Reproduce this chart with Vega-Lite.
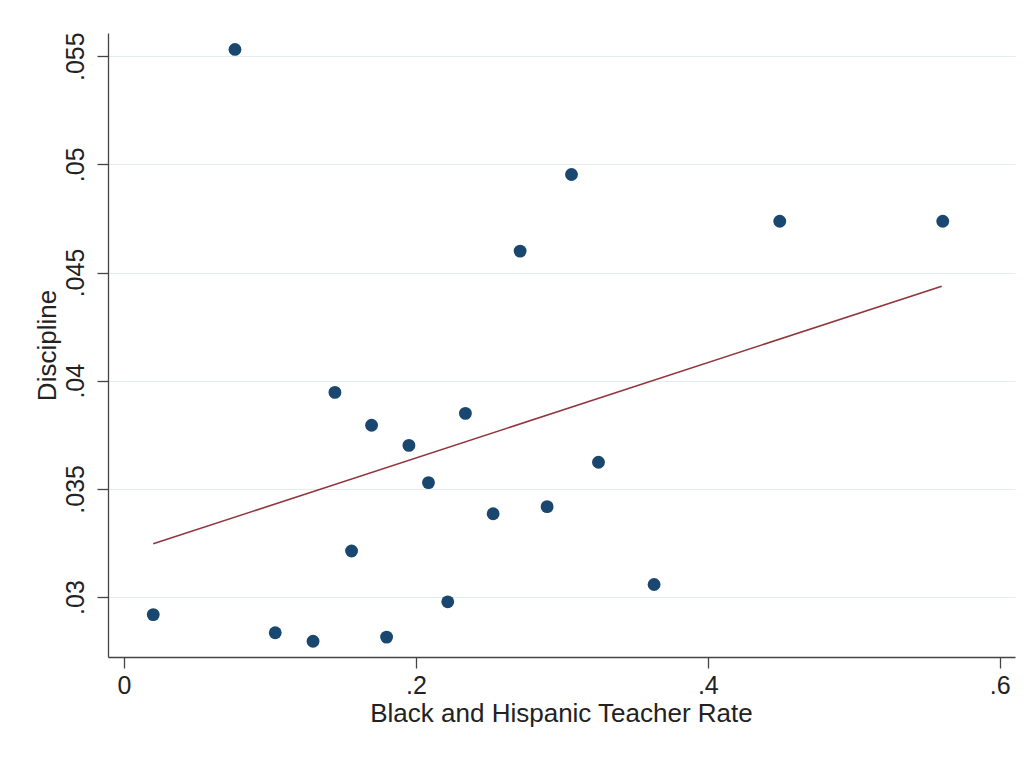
{
  "$schema": "https://vega.github.io/schema/vega-lite/v6.json",
  "width": 907,
  "height": 624,
  "autosize": {"type": "none"},
  "padding": {"left": 108, "top": 33, "right": 17, "bottom": 103},
  "background": "white",
  "config": {
    "view": {"stroke": null},
    "font": "Liberation Sans",
    "axis": {
      "domainColor": "#444444",
      "domainWidth": 1.3,
      "tickColor": "#444444",
      "tickWidth": 1.3,
      "tickSize": 11,
      "labelFont": "Liberation Sans",
      "labelFontSize": 25,
      "labelColor": "#222222",
      "titleFont": "Liberation Sans",
      "titleFontSize": 26,
      "titleFontWeight": "normal",
      "titleColor": "#222222",
      "gridColor": "#e3ecef",
      "gridWidth": 1.2
    }
  },
  "datasets": {
    "pts": [
      {"rate": 0.0200, "discipline": 0.02919},
      {"rate": 0.0760, "discipline": 0.05531},
      {"rate": 0.1036, "discipline": 0.02835},
      {"rate": 0.1295, "discipline": 0.02796},
      {"rate": 0.1445, "discipline": 0.03946},
      {"rate": 0.1559, "discipline": 0.03213},
      {"rate": 0.1696, "discipline": 0.03794},
      {"rate": 0.1799, "discipline": 0.02815},
      {"rate": 0.1952, "discipline": 0.03701},
      {"rate": 0.2086, "discipline": 0.03529},
      {"rate": 0.2218, "discipline": 0.02978},
      {"rate": 0.2339, "discipline": 0.03849},
      {"rate": 0.2529, "discipline": 0.03385},
      {"rate": 0.2714, "discipline": 0.04599},
      {"rate": 0.2899, "discipline": 0.03418},
      {"rate": 0.3066, "discipline": 0.04953},
      {"rate": 0.3251, "discipline": 0.03623},
      {"rate": 0.3632, "discipline": 0.03058},
      {"rate": 0.4493, "discipline": 0.04737},
      {"rate": 0.5610, "discipline": 0.04737}
    ],
    "fit": [
      {"rate": 0.0200, "fitted": 0.03246},
      {"rate": 0.5603, "fitted": 0.04437}
    ]
  },
  "layer": [
    {
      "data": {"name": "fit"},
      "mark": {"type": "line", "color": "#90353b", "strokeWidth": 1.6, "clip": true},
      "encoding": {
        "x": {"field": "rate", "type": "quantitative",
          "scale": {"domain": [-0.011, 0.6105], "nice": false, "zero": false},
          "axis": {
            "title": "Black and Hispanic Teacher Rate",
            "values": [0, 0.2, 0.4, 0.6],
            "labelExpr": "replace(format(datum.value, '~g'), '0.', '.')",
            "grid": false,
            "labelPadding": 25,
            "labelBaseline": "alphabetic",
            "titleBaseline": "alphabetic",
            "titleY": 64,
            "titleX": 453
          }},
        "y": {"field": "fitted", "type": "quantitative",
          "scale": {"domain": [0.02723, 0.05607], "nice": false, "zero": false},
          "axis": {
            "title": "Discipline",
            "values": [0.03, 0.035, 0.04, 0.045, 0.05, 0.055],
            "labelExpr": "replace(format(datum.value, '~g'), '0.', '.')",
            "grid": true,
            "labelAngle": -90,
            "labelAlign": "center",
            "labelBaseline": "alphabetic",
            "labelPadding": 14,
            "titleAngle": -90,
            "titleAlign": "center",
            "titleBaseline": "alphabetic",
            "titleX": -53,
            "titleY": 312
          }}
      }
    },
    {
      "data": {"name": "pts"},
      "mark": {"type": "circle", "color": "#1a476f", "opacity": 1, "size": 165},
      "encoding": {
        "x": {"field": "rate", "type": "quantitative"},
        "y": {"field": "discipline", "type": "quantitative"}
      }
    }
  ]
}
